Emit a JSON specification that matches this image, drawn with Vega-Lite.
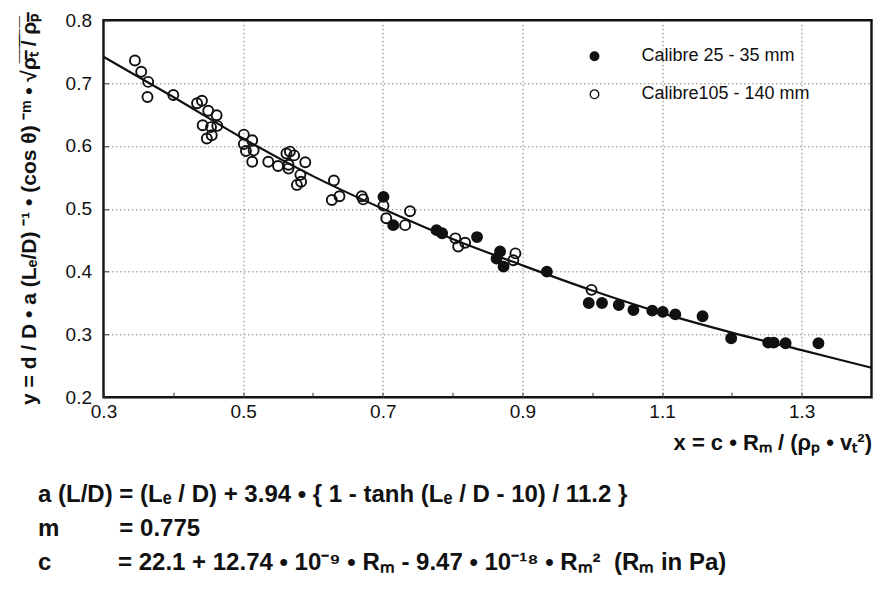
{
  "$schema": "https://vega.github.io/schema/vega-lite/v6.json",
  "width": 768,
  "height": 377,
  "autosize": {"type": "none"},
  "padding": {"left": 103.5, "top": 20.3, "right": 14.5, "bottom": 196.7},
  "background": "white",
  "config": {
    "view": {"stroke": "#111", "strokeWidth": 2.4},
    "font": "Liberation Sans"
  },
  "datasets": {
    "fit": [
      {"x": 0.3, "y": 0.742},
      {"x": 0.4, "y": 0.678},
      {"x": 0.5, "y": 0.612},
      {"x": 0.6, "y": 0.552},
      {"x": 0.7, "y": 0.5},
      {"x": 0.8, "y": 0.452},
      {"x": 0.9, "y": 0.41},
      {"x": 1.0, "y": 0.37},
      {"x": 1.1, "y": 0.334},
      {"x": 1.2, "y": 0.303},
      {"x": 1.3, "y": 0.275},
      {"x": 1.4, "y": 0.247}
    ],
    "shots": [
      {"calibre": "Calibre105 - 140  mm", "x": 0.345, "y": 0.736},
      {"calibre": "Calibre105 - 140  mm", "x": 0.354, "y": 0.718},
      {"calibre": "Calibre105 - 140  mm", "x": 0.364, "y": 0.702},
      {"calibre": "Calibre105 - 140  mm", "x": 0.363, "y": 0.678},
      {"calibre": "Calibre105 - 140  mm", "x": 0.4, "y": 0.681},
      {"calibre": "Calibre105 - 140  mm", "x": 0.434, "y": 0.668},
      {"calibre": "Calibre105 - 140  mm", "x": 0.441, "y": 0.672},
      {"calibre": "Calibre105 - 140  mm", "x": 0.45, "y": 0.656},
      {"calibre": "Calibre105 - 140  mm", "x": 0.462, "y": 0.649},
      {"calibre": "Calibre105 - 140  mm", "x": 0.442, "y": 0.633},
      {"calibre": "Calibre105 - 140  mm", "x": 0.454, "y": 0.63},
      {"calibre": "Calibre105 - 140  mm", "x": 0.463, "y": 0.632},
      {"calibre": "Calibre105 - 140  mm", "x": 0.448, "y": 0.612},
      {"calibre": "Calibre105 - 140  mm", "x": 0.455, "y": 0.617},
      {"calibre": "Calibre105 - 140  mm", "x": 0.501, "y": 0.618},
      {"calibre": "Calibre105 - 140  mm", "x": 0.513, "y": 0.609},
      {"calibre": "Calibre105 - 140  mm", "x": 0.501, "y": 0.603},
      {"calibre": "Calibre105 - 140  mm", "x": 0.504, "y": 0.592},
      {"calibre": "Calibre105 - 140  mm", "x": 0.515, "y": 0.593},
      {"calibre": "Calibre105 - 140  mm", "x": 0.513, "y": 0.575},
      {"calibre": "Calibre105 - 140  mm", "x": 0.536, "y": 0.575},
      {"calibre": "Calibre105 - 140  mm", "x": 0.55, "y": 0.568},
      {"calibre": "Calibre105 - 140  mm", "x": 0.562, "y": 0.588},
      {"calibre": "Calibre105 - 140  mm", "x": 0.567, "y": 0.591},
      {"calibre": "Calibre105 - 140  mm", "x": 0.573, "y": 0.585},
      {"calibre": "Calibre105 - 140  mm", "x": 0.565, "y": 0.57},
      {"calibre": "Calibre105 - 140  mm", "x": 0.565, "y": 0.564},
      {"calibre": "Calibre105 - 140  mm", "x": 0.589, "y": 0.574},
      {"calibre": "Calibre105 - 140  mm", "x": 0.577, "y": 0.538},
      {"calibre": "Calibre105 - 140  mm", "x": 0.583, "y": 0.543},
      {"calibre": "Calibre105 - 140  mm", "x": 0.582, "y": 0.554},
      {"calibre": "Calibre105 - 140  mm", "x": 0.63, "y": 0.545},
      {"calibre": "Calibre105 - 140  mm", "x": 0.627, "y": 0.514},
      {"calibre": "Calibre105 - 140  mm", "x": 0.638, "y": 0.52},
      {"calibre": "Calibre105 - 140  mm", "x": 0.67, "y": 0.52},
      {"calibre": "Calibre105 - 140  mm", "x": 0.672, "y": 0.515},
      {"calibre": "Calibre105 - 140  mm", "x": 0.701, "y": 0.505},
      {"calibre": "Calibre105 - 140  mm", "x": 0.705, "y": 0.485},
      {"calibre": "Calibre105 - 140  mm", "x": 0.739, "y": 0.496},
      {"calibre": "Calibre105 - 140  mm", "x": 0.732, "y": 0.474},
      {"calibre": "Calibre105 - 140  mm", "x": 0.804, "y": 0.453},
      {"calibre": "Calibre105 - 140  mm", "x": 0.808, "y": 0.44},
      {"calibre": "Calibre105 - 140  mm", "x": 0.818, "y": 0.446},
      {"calibre": "Calibre105 - 140  mm", "x": 0.89, "y": 0.429},
      {"calibre": "Calibre105 - 140  mm", "x": 0.887, "y": 0.418},
      {"calibre": "Calibre105 - 140  mm", "x": 0.999, "y": 0.371},
      {"calibre": "Calibre 25 - 35 mm", "x": 0.701, "y": 0.519},
      {"calibre": "Calibre 25 - 35 mm", "x": 0.715, "y": 0.474},
      {"calibre": "Calibre 25 - 35 mm", "x": 0.777, "y": 0.466},
      {"calibre": "Calibre 25 - 35 mm", "x": 0.785, "y": 0.461},
      {"calibre": "Calibre 25 - 35 mm", "x": 0.835, "y": 0.455},
      {"calibre": "Calibre 25 - 35 mm", "x": 0.868, "y": 0.432},
      {"calibre": "Calibre 25 - 35 mm", "x": 0.863, "y": 0.421},
      {"calibre": "Calibre 25 - 35 mm", "x": 0.873, "y": 0.408},
      {"calibre": "Calibre 25 - 35 mm", "x": 0.935, "y": 0.4},
      {"calibre": "Calibre 25 - 35 mm", "x": 0.995, "y": 0.35},
      {"calibre": "Calibre 25 - 35 mm", "x": 1.014, "y": 0.35},
      {"calibre": "Calibre 25 - 35 mm", "x": 1.038, "y": 0.347},
      {"calibre": "Calibre 25 - 35 mm", "x": 1.059, "y": 0.339},
      {"calibre": "Calibre 25 - 35 mm", "x": 1.086, "y": 0.338},
      {"calibre": "Calibre 25 - 35 mm", "x": 1.101, "y": 0.336},
      {"calibre": "Calibre 25 - 35 mm", "x": 1.119, "y": 0.332},
      {"calibre": "Calibre 25 - 35 mm", "x": 1.158, "y": 0.329},
      {"calibre": "Calibre 25 - 35 mm", "x": 1.199, "y": 0.294},
      {"calibre": "Calibre 25 - 35 mm", "x": 1.252, "y": 0.287},
      {"calibre": "Calibre 25 - 35 mm", "x": 1.26, "y": 0.287},
      {"calibre": "Calibre 25 - 35 mm", "x": 1.277, "y": 0.286},
      {"calibre": "Calibre 25 - 35 mm", "x": 1.324, "y": 0.286}
    ]
  },
  "title": {
    "text": [
      "a (L/D) = (Lₑ / D) + 3.94 • { 1 - tanh (Lₑ / D - 10) / 11.2 }",
      "m\u00a0\u00a0\u00a0\u00a0\u00a0\u00a0\u00a0\u00a0\u00a0= 0.775",
      "c\u00a0\u00a0\u00a0\u00a0\u00a0\u00a0\u00a0\u00a0\u00a0\u00a0= 22.1 + 12.74 • 10⁻⁹ • Rₘ - 9.47 • 10⁻¹⁸ • Rₘ²\u00a0 (Rₘ in Pa)"
    ],
    "orient": "bottom",
    "anchor": "start",
    "frame": "group",
    "dx": -65.5,
    "offset": 30,
    "font": "Liberation Sans",
    "fontSize": 24,
    "fontWeight": "bold",
    "lineHeight": 34,
    "color": "#111"
  },
  "layer": [
    {
      "data": {"name": "fit"},
      "mark": {"type": "line", "interpolate": "monotone", "color": "#111", "strokeWidth": 2.2},
      "encoding": {
        "x": {
          "field": "x",
          "type": "quantitative",
          "scale": {"domain": [0.3, 1.4], "nice": false, "zero": false},
          "axis": {
            "values": [0.3, 0.4, 0.5, 0.6, 0.7, 0.8, 0.9, 1.0, 1.1, 1.2, 1.3],
            "labelExpr": "round(datum.value * 10) % 2 == 1 ? format(datum.value, '.1f') : ''",
            "labelFlush": false,
            "labelFontSize": 19,
            "labelColor": "#111",
            "labelPadding": 10,
            "domain": false,
            "tickSize": -5,
            "tickColor": "#333",
            "tickWidth": 1,
            "grid": true,
            "gridColor": "#777",
            "gridDash": [1.5, 2.5],
            "gridWidth": 1,
            "gridOpacity": {"condition": {"test": "round(datum.value * 10) % 2 == 1 && datum.value > 0.35", "value": 0.9}, "value": 0},
            "title": "x = c • Rₘ / (ρₚ • vₜ²)",
            "titleAnchor": "end",
            "titleFontSize": 22,
            "titleFontWeight": "bold",
            "titleColor": "#111",
            "titlePadding": 11
          }
        },
        "y": {
          "field": "y",
          "type": "quantitative",
          "scale": {"domain": [0.2, 0.8], "nice": false, "zero": false},
          "axis": {
            "values": [0.2, 0.25, 0.3, 0.35, 0.4, 0.45, 0.5, 0.55, 0.6, 0.65, 0.7, 0.75, 0.8],
            "labelExpr": "abs(datum.value * 10 - round(datum.value * 10)) < 0.01 ? format(datum.value, '.1f') : ''",
            "labelFontSize": 19,
            "labelColor": "#111",
            "labelPadding": 17,
            "domain": false,
            "tickSize": -5,
            "tickColor": "#333",
            "tickWidth": 1,
            "grid": true,
            "gridColor": "#777",
            "gridDash": [1.5, 2.5],
            "gridWidth": 1,
            "gridOpacity": {"condition": {"test": "abs(datum.value * 10 - round(datum.value * 10)) < 0.01 && datum.value > 0.25 && datum.value < 0.75", "value": 0.9}, "value": 0},
            "title": "y = d / D • a (Lₑ/D) ⁻¹ • (cos θ) ⁻ᵐ • √ρ̅ₜ̅ ̅/̅ ̅ρ̅ₚ̅",
            "titleFontSize": 21,
            "titleFontWeight": "bold",
            "titleColor": "#111",
            "titlePadding": 26
          }
        }
      }
    },
    {
      "data": {"name": "shots"},
      "mark": {"type": "point", "shape": "circle", "filled": true, "stroke": "#111", "strokeWidth": 1.9, "size": 100, "opacity": 1},
      "encoding": {
        "x": {"field": "x", "type": "quantitative"},
        "y": {"field": "y", "type": "quantitative"},
        "fill": {
          "field": "calibre",
          "type": "nominal",
          "scale": {"domain": ["Calibre 25 - 35 mm", "Calibre105 - 140  mm"], "range": ["#111", "transparent"]},
          "legend": {
            "orient": "none",
            "legendX": 482,
            "legendY": 27,
            "title": null,
            "padding": 0,
            "labelFontSize": 18,
            "labelColor": "#111",
            "labelOffset": 38,
            "labelLimit": 300,
            "symbolSize": 75,
            "symbolStrokeColor": "#111",
            "symbolStrokeWidth": 1.3,
            "rowPadding": 20
          }
        }
      }
    }
  ]
}
